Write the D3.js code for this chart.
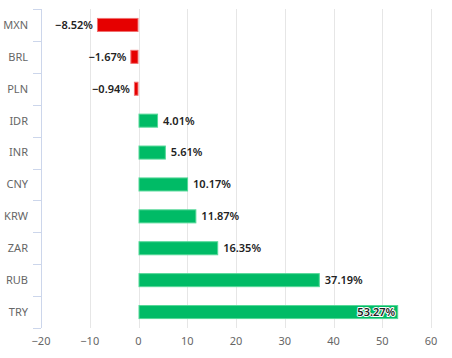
<!DOCTYPE html>
<html><head><meta charset="utf-8">
<script src="https://cdn.jsdelivr.net/npm/d3@7"></script>
<style>body{margin:0;background:#fff;} svg{display:block;}</style>
</head><body>
<svg id="c" width="452" height="358"></svg>
<script>
const categories = ["MXN","BRL","PLN","IDR","INR","CNY","KRW","ZAR","RUB","TRY"];
const values = [-8.52,-1.67,-0.94,4.01,5.61,10.17,11.87,16.35,37.19,53.27];
const xTicks = [-20,-10,0,10,20,30,40,50,60];

(function(){
const svg = d3.select("#c");
const pL = 41, pR = 431, pT = 9, pB = 328;
const x = d3.scaleLinear().domain([-20,60]).range([pL,pR]);
const y = d3.scaleBand().domain(categories).range([pT,pB]).paddingInner(0.56).paddingOuter(0.28);
const yb = d3.scaleBand().domain(categories).range([pT,pB]);
const font = "'Noto Sans', 'DejaVu Sans', sans-serif";

svg.append("g").selectAll("line").data(xTicks.filter(d=>d!==-20)).join("line")
  .attr("x1",d=>Math.round(x(d))+0.5).attr("x2",d=>Math.round(x(d))+0.5).attr("y1",pT).attr("y2",pB)
  .attr("stroke","#e6e6e6").attr("stroke-width",1);

svg.append("line").attr("x1",pL+0.5).attr("x2",pL+0.5).attr("y1",pT).attr("y2",pB)
  .attr("stroke","#ccd6eb");
const bounds = categories.map(c=>yb(c)).concat([pB]);
svg.append("g").selectAll("line").data(bounds).join("line")
  .attr("x1",pL-8).attr("x2",pL).attr("y1",d=>Math.round(d)+0.5).attr("y2",d=>Math.round(d)+0.5)
  .attr("stroke","#ccd6eb");

svg.append("g").selectAll("text").data(categories).join("text")
  .attr("x",28).attr("y",d=>yb(d)+yb.bandwidth()/2).attr("dy","0.35em")
  .attr("text-anchor","end").attr("font-family",font).attr("font-size",11).attr("fill","#666")
  .text(d=>d);

svg.append("g").selectAll("text").data(xTicks).join("text")
  .attr("x",d=>x(d)).attr("y",345).attr("text-anchor","middle")
  .attr("font-family",font).attr("font-size",11).attr("fill","#666")
  .text(d=>d<0?"−"+Math.abs(d):d);

const data = categories.map((c,i)=>({c,v:values[i]}));
svg.append("g").selectAll("rect").data(data).join("rect")
  .attr("x",d=>x(Math.min(0,d.v))+0.5).attr("y",d=>y(d.c)+0.5)
  .attr("width",d=>Math.abs(x(d.v)-x(0))-1).attr("height",y.bandwidth()-1)
  .attr("fill",d=>d.v<0?"#e60000":"#00bb66")
  .attr("stroke",d=>d.v<0?"#f07070":"#55d898").attr("stroke-width",1);

const fmt = v => (v<0?"−":"")+Math.abs(v).toFixed(2)+"%";
svg.append("g").selectAll("text").data(data).join("text")
  .attr("y",d=>y(d.c)+y.bandwidth()/2).attr("dy","0.35em")
  .attr("font-family",font).attr("font-size",11).attr("font-weight",600).attr("fill","#222")
  .each(function(d){
    const s = d3.select(this);
    if (d.v<0){ s.attr("x",x(d.v)-4).attr("text-anchor","end"); }
    else if (x(d.v)+50>pR){ s.attr("x",x(d.v)-3).attr("text-anchor","end")
      .attr("stroke","#fff").attr("stroke-width",2).attr("paint-order","stroke").attr("stroke-linejoin","round"); }
    else { s.attr("x",x(d.v)+5).attr("text-anchor","start"); }
  })
  .text(d=>fmt(d.v));
})();
</script>
</body></html>
